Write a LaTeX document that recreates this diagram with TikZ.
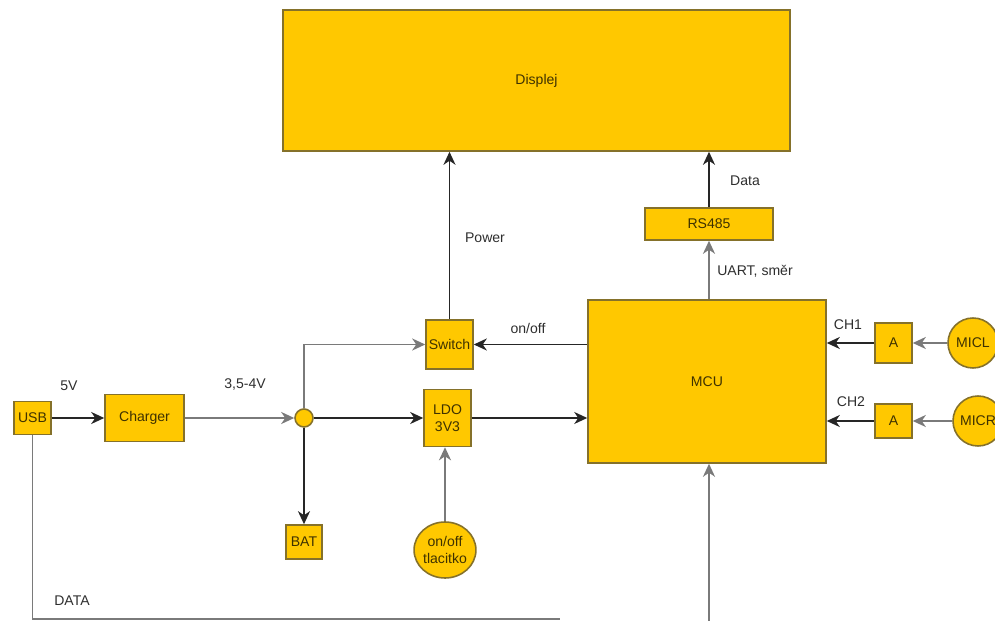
\documentclass[tikz,border=0pt]{standalone}
\usepackage{fontspec}
\setmainfont{Liberation Sans}
\usetikzlibrary{arrows.meta,shapes.geometric}
\definecolor{boxfill}{HTML}{FFC800}
\definecolor{boxline}{HTML}{85712A}
\definecolor{boxtext}{HTML}{3F3200}
\definecolor{labtext}{HTML}{2E2E2E}
\definecolor{greyline}{HTML}{7A7A7A}
\tikzset{
  blk/.style={draw=boxline, fill=boxfill, line width=0.9pt, inner sep=0pt,
    text=boxtext, font=\fontsize{8}{9.5}\selectfont, align=center},
  rnd/.style={blk, ellipse},
  lab/.style={text=labtext, font=\fontsize{8}{9.5}\selectfont, inner sep=0pt},
  conn/.style={line width=1.1pt, draw=black!85, -{Stealth[length=2.6mm,width=2.4mm,inset=0.8mm]}},
  gconn/.style={conn, draw=greyline},
  pln/.style={line width=1.1pt, draw=greyline},
}
\begin{document}
\begin{tikzpicture}[x=0.02cm,y=-0.02cm]
\useasboundingbox (0,0) rectangle (995,621);
\clip (0,0) rectangle (995,621);
% blocks
\node[blk, minimum width=10.14cm, minimum height=2.82cm] (disp) at (536.5,80.5) {Displej};
\node[blk, minimum width=2.56cm, minimum height=0.64cm] (rs) at (709,224) {RS485};
\node[blk, minimum width=4.76cm, minimum height=3.26cm] (mcu) at (707,381.5) {MCU};
\node[blk, minimum width=0.94cm, minimum height=0.98cm] (sw) at (449.5,344.5) {Switch};
\node[blk, minimum width=0.94cm, minimum height=1.14cm] (ldo) at (447.5,418) {LDO\\3V3};
\node[blk, minimum width=1.58cm, minimum height=0.94cm] (chg) at (144.5,418) {Charger};
\node[blk, minimum width=0.74cm, minimum height=0.66cm] (usb) at (32.5,418) {USB};
\node[blk, circle, minimum size=0.36cm] (j) at (304,418) {};
\node[blk, minimum width=0.72cm, minimum height=0.68cm] (bat) at (304,542) {BAT};
\node[rnd, minimum width=1.16cm, minimum height=1.12cm] (btn) at (445,550) {on/off\\tlacitko};
\node[blk, minimum width=0.74cm, minimum height=0.80cm] (a1) at (893.5,343) {A};
\node[blk, minimum width=0.74cm, minimum height=0.68cm] (a2) at (893.5,421) {A};
\node[blk, circle, minimum size=1.0cm] (micl) at (973,343) {MICL};
\node[blk, circle, minimum size=1.0cm] (micr) at (978,421) {MICR};
\coordinate (dl) at (560,619);
\coordinate (db) at (709,625);
% connectors
\draw[conn] (sw.north) -- (sw.north |- disp.south);
\draw[conn] (rs.north) -- (rs.north |- disp.south);
\draw[gconn] (rs.south |- mcu.north) -- (rs.south);
\draw[conn] (mcu.west |- sw.east) -- (sw.east);
\draw[conn] (ldo.east) -- (mcu.west |- ldo.east);
\draw[gconn] (j.north) |- (sw.west);
\draw[conn] (j.east) -- (ldo.west);
\draw[gconn] (chg.east) -- (j.west);
\draw[conn] (usb.east) -- (chg.west);
\draw[conn] (j.south) -- (bat.north);
\draw[gconn] (btn.north) -- (btn.north |- ldo.south);
\draw[conn] (a1.west) -- (mcu.east |- a1.west);
\draw[conn] (a2.west) -- (mcu.east |- a2.west);
\draw[gconn] (micl.west) -- (a1.east);
\draw[gconn] (micr.west) -- (a2.east);
\draw[pln] (usb.south) |- (dl);
\draw[gconn] (db) -- (db |- mcu.south);
% labels
\node[lab] (lpow) at (485,238) {Power};
\node[lab] (ldat) at (745,181) {Data};
\node[lab] (luart) at (755,271) {UART, směr};
\node[lab] (lonoff) at (528,328) {on/off};
\node[lab] (lbat) at (245,384) {3,5-4V};
\node[lab] (l5v) at (69,386) {5V};
\node[lab] (ldata) at (72,601) {DATA};
\node[lab] (lch1) at (848,325) {CH1};
\node[lab] (lch2) at (851,402) {CH2};
\end{tikzpicture}
\end{document}
